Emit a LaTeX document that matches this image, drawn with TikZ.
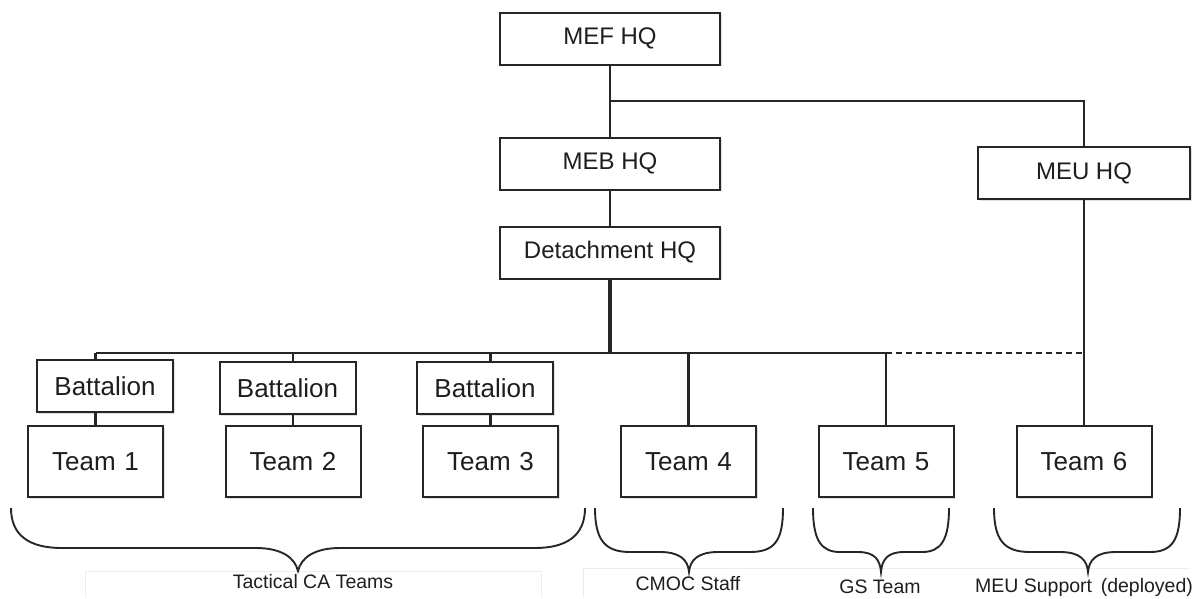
\documentclass[tikz,border=0pt]{standalone}
\usepackage{fontspec}
\setmainfont{Liberation Sans}
\usetikzlibrary{shadows,calc}
\definecolor{ink}{HTML}{1E1E1E}
\definecolor{wire}{HTML}{262626}
\definecolor{faint}{HTML}{EDEDED}
\tikzset{
  box/.style={draw=wire, line width=2pt, fill=white, inner sep=0pt,
    text=ink, drop shadow={shadow xshift=1.8pt, shadow yshift=-1.8pt, opacity=0.25}},
  hqbox/.style={box, minimum width=220pt, minimum height=52pt, font=\fontsize{24}{28}\selectfont},
  batbox/.style={box, minimum width=136pt, minimum height=52pt, font=\fontsize{26}{30}\selectfont},
  teambox/.style={box, minimum width=135pt, minimum height=71pt, font=\fontsize{26}{30}\selectfont},
  link/.style={draw=wire, line width=2.1pt},
  brace/.style={draw=wire, line width=1.9pt},
  grouplabel/.style={text=ink, inner sep=0pt, font=\fontsize{19.5}{23}\selectfont},
}
\begin{document}
\begin{tikzpicture}[x=1pt,y=-1pt]
\useasboundingbox (0,0) rectangle (1193,598);

% faint frames around the group labels
\draw[faint, line width=0.8pt] (85,598) -- (85,571) -- (541,571) -- (541,598);
\draw[faint, line width=0.8pt] (583,598) -- (583,568) -- (1190,568);

% headquarters
\node[hqbox] (mef) at (610,38.5) {MEF HQ};
\node[hqbox] (meb) at (610,163.5) {MEB HQ};
\node[hqbox] (det) at (610,252.5) {Detachment HQ};
\node[hqbox, minimum width=212pt] (meu) at (1084,173) {MEU HQ};

% battalions
\node[batbox] (bat1) at (105,386) {Battalion};
\node[batbox] (bat2) at (287.5,388) {Battalion};
\node[batbox] (bat3) at (485,388) {Battalion};

% teams
\node[teambox] (team1) at (95.5,461.5) {Team\,\,1};
\node[teambox] (team2) at (293,461.5) {Team\,\,2};
\node[teambox] (team3) at (490.5,461.5) {Team\,\,3};
\node[teambox] (team4) at (688.5,461.5) {Team\,\,4};
\node[teambox] (team5) at (886,461.5) {Team\,\,5};
\node[teambox] (team6) at (1084,461.5) {Team\,\,6};

% command lines above the detachment
\coordinate (br) at ($(mef.south)!0.5!(meb.north)$);
\draw[link] (mef.south) -- (meb.north);
\draw[link] (br) -| (meu.north);
\draw[link] (meb.south) -- (det.north);

% distribution bus
\coordinate (busL) at (95.5,353);
\coordinate (busM) at (886,353);
\coordinate (busR) at (1084,353);
\draw[link, line width=3.4pt] (det.south) -- (det.south |- busL);
\draw[link, line width=2.8pt] (busL) -- (det.south |- busL);
\draw[link, line width=2.4pt] (det.south |- busL) -- (busM);
\draw[link, dashed, dash pattern=on 6pt off 4pt] (busM) -- (busR);

% branches to battalions and teams
\foreach \b/\t in {bat1/team1, bat2/team2, bat3/team3}{
  \draw[link] (\t.north |- busL) -- (\t.north |- \b.north);
  \draw[link] (\t.north |- \b.south) -- (\t.north);
}
\draw[link] (team4.north |- busL) -- (team4.north);
\draw[link] (busM) -- (team5.north);
\draw[link] (meu.south) -- (team6.north);

% group braces
\draw[brace] (11,508) .. controls (11,536) and (30,548) .. (62,548)
  -- (256,548) .. controls (282,548) and (295,558) .. (298,571)
  .. controls (301,558) and (314,548) .. (340,548)
  -- (535,548) .. controls (566,548) and (585,536) .. (585,508);
\draw[brace] (595,508) .. controls (595,540) and (605,552) .. (630,552)
  -- (660,552) .. controls (680,552) and (688,560) .. (689,572)
  .. controls (690,560) and (698,552) .. (718,552)
  -- (750,552) .. controls (775,552) and (783,540) .. (783,508);
\draw[brace] (813,508) .. controls (813,540) and (821,552) .. (840,552)
  -- (858,552) .. controls (875,552) and (880,560) .. (881,572)
  .. controls (882,560) and (887,552) .. (904,552)
  -- (922,552) .. controls (941,552) and (949,540) .. (949,508);
\draw[brace] (994,508) .. controls (994,540) and (1004,552) .. (1030,552)
  -- (1060,552) .. controls (1080,552) and (1087,560) .. (1088,572)
  .. controls (1089,560) and (1096,552) .. (1116,552)
  -- (1150,552) .. controls (1172,552) and (1180,540) .. (1180,508);

% group labels
\node[grouplabel] (lab1) at (313,582) {Tactical CA Teams};
\node[grouplabel] (lab2) at (688,584) {CMOC Staff};
\node[grouplabel] (lab3) at (880,587) {GS Team};
\node[grouplabel] (lab4) at (1084,587) {MEU Support\, (deployed)};
\end{tikzpicture}
\end{document}
